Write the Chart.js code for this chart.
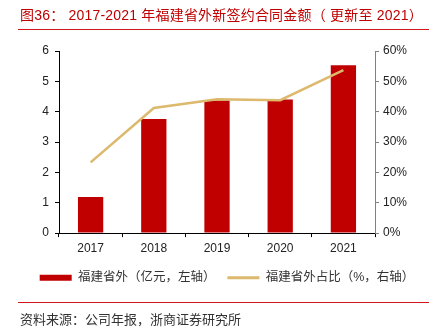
<!DOCTYPE html>
<html lang="zh">
<head>
  <meta charset="UTF-8">
  <title>福建省外新签约合同金额</title>
  <script src="https://cdn.jsdelivr.net/npm/chart.js"></script>
  <style>
    html, body { margin: 0; padding: 0; background: #fff; }
    body { width: 434px; height: 332px; position: relative; overflow: hidden;
           font-family: "Liberation Sans", "Noto Sans CJK SC", sans-serif; }
    #title { position: absolute; left: 20px; top: 4px; font-size: 14px; color: #c00000; white-space: nowrap; letter-spacing: 0.2px; }
    .rule { position: absolute; left: 18px; width: 411px; height: 1px; background: #d01818; }
    #source { position: absolute; left: 20px; top: 309px; font-size: 13px; color: #333; white-space: nowrap; }
    #wrap { position: absolute; left: 0; top: 0; width: 434px; height: 332px; }
  </style>
</head>
<body>
  <div id="wrap"><canvas id="chart"></canvas></div>
  <div id="title">图36：&nbsp;2017-2021 年福建省外新签约合同金额（&nbsp;更新至 2021）</div>
  <div class="rule" style="top:29px"></div>
  <div class="rule" style="top:302px"></div>
  <div id="source">资料来源：公司年报，浙商证券研究所</div>

  <script>
    // values
    const years = ['2017', '2018', '2019', '2020', '2021'];
    const amount = [1.19, 3.76, 4.37, 4.40, 5.53];      // 亿元, left axis
    const share = [23.3, 41.2, 44.1, 43.8, 53.7];       // %, right axis

    const cjk = '"Liberation Sans", "Noto Sans CJK SC", sans-serif';

    // nudge the legend a little right, like the original
    const shiftLegend = {
      id: 'shiftLegend',
      afterLayout(chart) {
        if (chart.legend) {
          chart.legend.left += 10;
          chart.legend.right += 10;
        }
      }
    };

    const ctx = document.getElementById('chart').getContext('2d');
    new Chart(ctx, {
      data: {
        labels: years,
        datasets: [
          {
            type: 'line',
            label: '福建省外占比（%，右轴）',
            data: share,
            yAxisID: 'y1',
            borderColor: '#dcb96c',
            backgroundColor: '#dcb96c',
            borderWidth: 2.5,
            pointRadius: 0,
            tension: 0,
            order: 0
          },
          {
            type: 'bar',
            label: '福建省外（亿元，左轴）',
            data: amount,
            yAxisID: 'y',
            backgroundColor: '#c00000',
            barPercentage: 0.4,
            categoryPercentage: 1,
            order: 1
          }
        ]
      },
      options: {
        responsive: true,
        maintainAspectRatio: false,
        animation: false,
        layout: { padding: { top: 51, bottom: 38, left: 0, right: 0 } },
        plugins: {
          tooltip: { enabled: false },
          legend: {
            position: 'bottom',
            reverse: true,
            labels: {
              usePointStyle: true,
              pointStyleWidth: 32,
              boxWidth: 32,
              boxHeight: 6,
              color: '#333',
              padding: 12,
              font: { family: cjk, size: 12.5 },
              generateLabels: chart => {
                const items = Chart.defaults.plugins.legend.labels.generateLabels(chart);
                items.forEach(it => {
                  const ds = chart.data.datasets[it.datasetIndex];
                  if (ds.type === 'line') {
                    it.pointStyle = 'line';
                    it.lineWidth = 3;
                  } else {
                    it.pointStyle = 'rect';
                    it.lineWidth = 0;
                  }
                });
                return items;
              }
            }
          }
        },
        scales: {
          x: {
            grid: { drawOnChartArea: false, drawTicks: true, tickLength: 4, color: '#000' },
            border: { color: '#000' },
            ticks: { color: '#222', font: { family: cjk, size: 12 }, padding: 4 }
          },
          y: {
            position: 'left',
            min: 0, max: 6,
            ticks: { stepSize: 1, color: '#222', font: { family: cjk, size: 12 }, padding: 6 },
            grid: { drawOnChartArea: false, tickLength: 4, color: '#000' },
            border: { color: '#000' },
            afterFit: s => { s.width = 59; }
          },
          y1: {
            position: 'right',
            min: 0, max: 60,
            ticks: { stepSize: 10, color: '#222', font: { family: cjk, size: 12 }, padding: 4,
                     callback: v => v + '%' },
            grid: { drawOnChartArea: false, tickLength: 4, color: '#808080' },
            border: { color: '#808080' },
            afterFit: s => { s.width = 59; }
          }
        }
      },
      plugins: [shiftLegend]
    });
  </script>
</body>
</html>
